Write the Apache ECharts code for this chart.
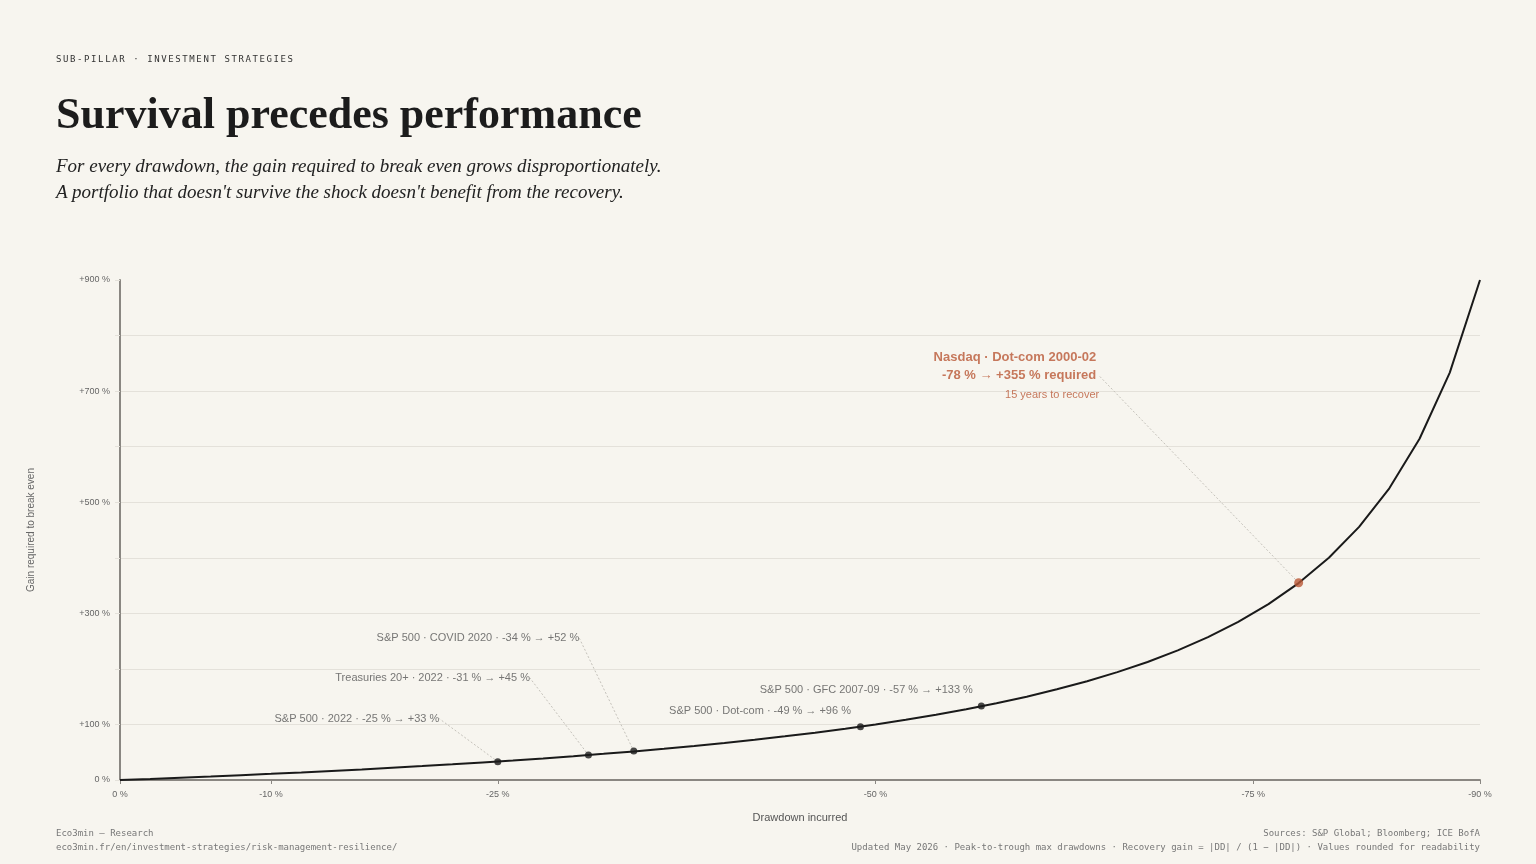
<!DOCTYPE html>
<html>
<head>
<meta charset="utf-8">
<title>Survival precedes performance</title>
<script src="https://cdn.jsdelivr.net/npm/echarts@6/dist/echarts.min.js"></script>
<style>
  html, body { margin: 0; padding: 0; background: #f7f5ef; }
  #page { position: relative; width: 1536px; height: 864px; overflow: hidden; }
  #chart { position: absolute; left: 0; top: 0; width: 1536px; height: 864px; }
  .txt { position: absolute; white-space: nowrap; }
  .kicker { left: 56px; top: 53px; font: 9px/12px "DejaVu Sans Mono", monospace; letter-spacing: 1.6px; color: #333; }
  .title { left: 56px; top: 92px; font: bold 44px/44px "Liberation Serif", serif; color: #1c1c1c; }
  .sub { left: 56px; top: 153px; font: italic 19px/26px "Liberation Serif", serif; color: #222; }
  .foot { font: 9px/14px "DejaVu Sans Mono", monospace; color: #777; top: 826px; }
  .foot.l { left: 56px; }
  .foot.r { right: 56px; text-align: right; }
</style>
</head>
<body>
<div id="page">
  <div id="chart"></div>
  <div class="txt kicker">SUB-PILLAR · INVESTMENT STRATEGIES</div>
  <div class="txt title">Survival precedes performance</div>
  <div class="txt sub">For every drawdown, the gain required to break even grows disproportionately.<br>A portfolio that doesn't survive the shock doesn't benefit from the recovery.</div>
  <div class="txt foot l">Eco3min — Research<br>eco3min.fr/en/investment-strategies/risk-management-resilience/</div>
  <div class="txt foot r">Sources: S&amp;P Global; Bloomberg; ICE BofA<br>Updated May 2026 · Peak-to-trough max drawdowns · Recovery gain = |DD| / (1 − |DD|) · Values rounded for readability</div>
</div>

<script type="text/javascript">
// curve: drawdown (%) -> gain needed (%)
var drawdowns = [0, 2, 4, 6, 8, 10, 12, 14, 16, 18, 20, 22, 24, 26, 28, 30, 32, 34, 36, 38, 40, 42, 44,
                 46, 48, 50, 52, 54, 56, 58, 60, 62, 64, 66, 68, 70, 72, 74, 76, 78, 80, 82, 84, 86, 88, 90];
var gains = [0, 2.0, 4.2, 6.4, 8.7, 11.1, 13.6, 16.3, 19.0, 22.0, 25.0, 28.2, 31.6, 35.1, 38.9, 42.9,
             47.1, 51.5, 56.3, 61.3, 66.7, 72.4, 78.6, 85.2, 92.3, 100, 108.3, 117.4, 127.3, 138.1, 150,
             163.2, 177.8, 194.1, 212.5, 233.3, 257.1, 284.6, 316.7, 354.5, 400, 455.6, 525, 614.3, 733.3, 900];

// historical episodes
var eventNames = ['S&P 500 · 2022', 'Treasuries 20+ · 2022', 'S&P 500 · COVID 2020',
                  'S&P 500 · Dot-com', 'S&P 500 · GFC 2007-09', 'Nasdaq · Dot-com 2000-02'];
var eventDD = [25, 31, 34, 49, 57, 78];
var eventGain = [33, 45, 52, 96, 133, 355];
var nasdaqNote = '15 years to recover';

var xTicks = [0, 10, 25, 50, 75, 90];
var yTicks = [0, 100, 300, 500, 700, 900];

// label offsets (px) for each episode
var labelShift = [[-50, -43], [-50, -77], [-46, -113], [-1, -16], [0, -16], [-190, -206]];

var accent = '#b95736';
var myChart = echarts.init(document.getElementById('chart'));

var eventData = eventNames.map(function (name, i) {
    var last = i === eventNames.length - 1;
    var item = {
        value: [eventDD[i], eventGain[i]],
        name: name,
        symbolSize: last ? 9 : 7,
        itemStyle: { color: last ? accent : '#1a1a1a' },
        label: {
            show: true,
            position: 'left',
            color: '#555',
            fontSize: 11,
            fontFamily: 'Liberation Sans, Arial, sans-serif',
            formatter: name + ' · -' + eventDD[i] + ' % → +' + eventGain[i] + ' %'
        },
        labelLine: { show: i < 3 }
    };
    if (last) {
        item.label = {
            show: true,
            position: 'left',
            align: 'right',
            fontFamily: 'Liberation Sans, Arial, sans-serif',
            formatter: '{a|' + name + '}\n{a|-' + eventDD[i] + ' % → +' + eventGain[i] + ' % required}\n{b|' + nasdaqNote + '}',
            rich: {
                a: { color: accent, fontSize: 13, fontWeight: 'bold', lineHeight: 18, align: 'right', padding: [0, 3, 0, 0] },
                b: { color: accent, fontSize: 11, lineHeight: 20, align: 'right' }
            }
        };
        item.labelLine = { show: true };
    }
    return item;
});

myChart.setOption({
    backgroundColor: 'transparent',
    animation: false,
    grid: { left: 120, right: 56, top: 280, bottom: 84 },
    xAxis: {
        type: 'value',
        min: 0,
        max: 90,
        name: 'Drawdown incurred',
        nameLocation: 'middle',
        nameGap: 32,
        nameTextStyle: { color: '#555', fontSize: 11, fontFamily: 'Liberation Sans, Arial, sans-serif' },
        axisLine: { show: true, lineStyle: { color: '#8a8782', width: 2 } },
        axisTick: { show: true, customValues: xTicks, length: 4, lineStyle: { color: '#8a8782' } },
        axisLabel: {
            customValues: xTicks,
            color: '#666',
            fontSize: 9,
            margin: 10,
            fontFamily: 'Liberation Sans, Arial, sans-serif',
            formatter: function (v) { return v === 0 ? '0 %' : '-' + v + ' %'; }
        },
        splitLine: { show: false }
    },
    yAxis: {
        type: 'value',
        min: 0,
        max: 900,
        interval: 100,
        name: 'Gain required to break even',
        nameLocation: 'middle',
        nameGap: 84,
        nameTextStyle: { color: '#666', fontSize: 10, fontFamily: 'Liberation Sans, Arial, sans-serif' },
        axisLine: { show: true, lineStyle: { color: '#8a8782', width: 2 } },
        axisTick: { show: true, length: 5, lineStyle: { color: '#e4e1da' } },
        axisLabel: {
            color: '#666',
            fontSize: 9,
            margin: 10,
            fontFamily: 'Liberation Sans, Arial, sans-serif',
            formatter: function (v) {
                if (yTicks.indexOf(v) < 0) return '';
                return v === 0 ? '0 %' : '+' + v + ' %';
            }
        },
        splitLine: { show: true, showMaxLine: false, lineStyle: { color: '#e4e1da', width: 1 } }
    },
    series: [
        {
            name: 'Recovery gain',
            type: 'line',
            data: drawdowns.map(function (d, i) { return [d, gains[i]]; }),
            showSymbol: false,
            lineStyle: { color: '#1a1a1a', width: 2 },
            z: 2
        },
        {
            name: 'Episodes',
            type: 'scatter',
            data: eventData,
            z: 3,
            labelLine: {
                lineStyle: { color: '#c4c1ba', width: 1, type: [2, 2] }
            },
            labelLayout: function (params) {
                var s = labelShift[params.dataIndex];
                return { dx: s[0], dy: s[1] };
            }
        }
    ]
});
</script>
</body>
</html>
